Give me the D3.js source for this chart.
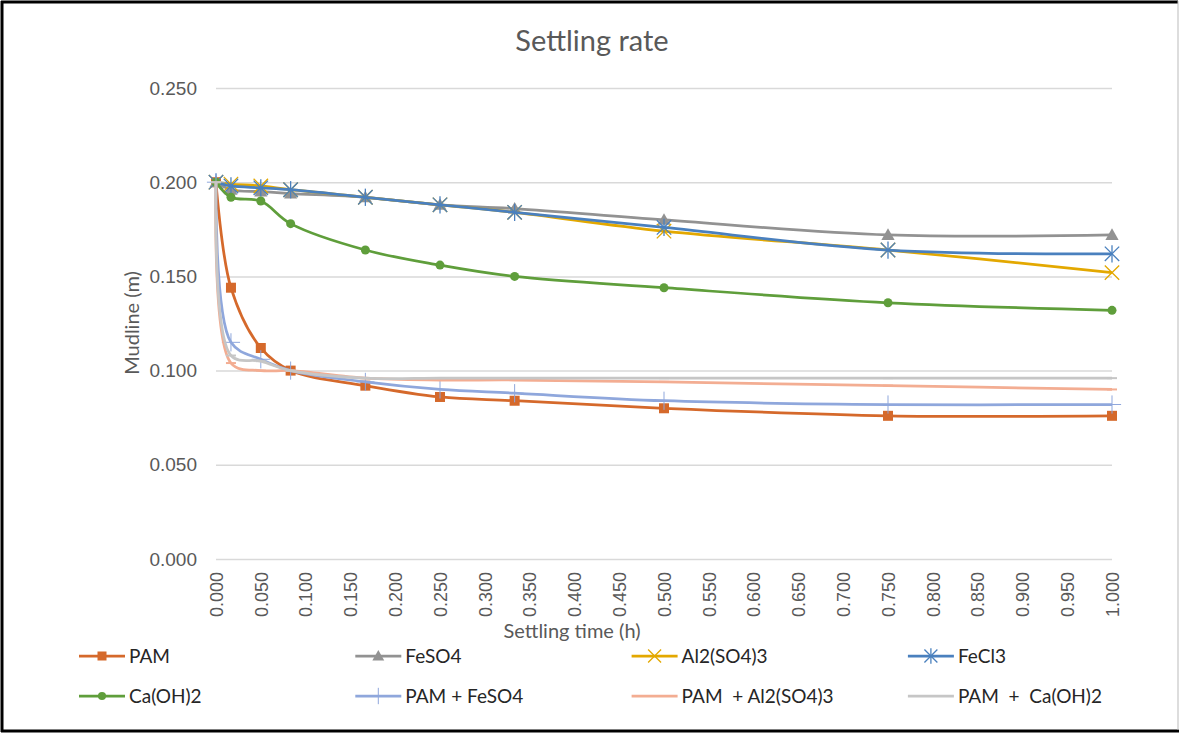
<!DOCTYPE html>
<html>
<head>
<meta charset="UTF-8">
<title>Settling rate</title>
<script src="https://d3js.org/d3.v7.min.js"></script>
<style>
  body { margin: 0; background: #fff; }
  svg { display: block; font-family: Lato, "Open Sans", sans-serif; }
  text { white-space: pre; }
</style>
</head>
<body>
<div id="chart"></div>
<script>
// settling time (h)
var times = [0, 0.0167, 0.05, 0.0833, 0.1667, 0.25, 0.3333, 0.5, 0.75, 1.0];

// mudline (m) per treatment
var pam      = [0.200, 0.144, 0.112, 0.100, 0.092, 0.086, 0.084, 0.080, 0.076, 0.076];
var feso4    = [0.200, 0.196, 0.195, 0.194, 0.192, 0.188, 0.186, 0.180, 0.172, 0.172];
var al2so43  = [0.200, 0.199, 0.198, 0.196, 0.192, 0.188, 0.184, 0.174, 0.164, 0.152];
var fecl3    = [0.200, 0.198, 0.197, 0.196, 0.192, 0.188, 0.184, 0.176, 0.164, 0.162];
var caoh2    = [0.200, 0.192, 0.190, 0.178, 0.164, 0.156, 0.150, 0.144, 0.136, 0.132];
var pamFeso4 = [0.200, 0.115, 0.106, 0.100, 0.094, 0.090, 0.088, 0.084, 0.082, 0.082];
var pamAl    = [0.200, 0.104, 0.100, 0.100, 0.096, 0.095, 0.095, 0.094, 0.092, 0.090];
var pamCa    = [0.200, 0.108, 0.105, 0.100, 0.096, 0.096, 0.096, 0.096, 0.096, 0.096];

var seriesNames = ["PAM", "FeSO4", "Al2(SO4)3", "FeCl3", "Ca(OH)2", "PAM + FeSO4", "PAM  + Al2(SO4)3", "PAM  +  Ca(OH)2"];
var seriesValues = [pam, feso4, al2so43, fecl3, caoh2, pamFeso4, pamAl, pamCa];

var xTicks = [0, 0.05, 0.1, 0.15, 0.2, 0.25, 0.3, 0.35, 0.4, 0.45, 0.5, 0.55, 0.6, 0.65, 0.7, 0.75, 0.8, 0.85, 0.9, 0.95, 1.0];
var yTicks = [0, 0.05, 0.1, 0.15, 0.2, 0.25];

// look of each series, in the same order
var colors  = ["#D5692B", "#929292", "#E3A800", "#4A80BE", "#5F9E3B", "#8FA7DC", "#F3AD92", "#C6C6C6"];
var markers = ["square", "triangle", "x", "star", "circle", "plus", "dash", "dash"];

var W = 1179, H = 733;
var svg = d3.select("#chart").append("svg").attr("width", W).attr("height", H);

// chart frame
svg.append("rect").attr("x", 0).attr("y", 0).attr("width", W).attr("height", H).attr("fill", "#fff");
svg.append("line").attr("x1", 2).attr("x2", 2).attr("y1", 1).attr("y2", 732).attr("stroke", "#000").attr("stroke-width", 3);
svg.append("line").attr("x1", 1).attr("x2", 1178).attr("y1", 2).attr("y2", 2).attr("stroke", "#000").attr("stroke-width", 3);
svg.append("line").attr("x1", 1).attr("x2", 1179).attr("y1", 731).attr("y2", 731).attr("stroke", "#000").attr("stroke-width", 3);
svg.append("line").attr("x1", 1178).attr("x2", 1178).attr("y1", 1).attr("y2", 730).attr("stroke", "#bbb").attr("stroke-width", 1);

var x = d3.scaleLinear().domain([0, 1]).range([216, 1112]);
var y = d3.scaleLinear().domain([0, 0.25]).range([559, 88]);

// y axis + gridlines
var yAxis = svg.append("g")
  .attr("transform", "translate(216,0)")
  .call(d3.axisLeft(y).tickValues(yTicks).tickFormat(d3.format(".3f"))
    .tickSizeInner(-(x(1) - x(0))).tickSizeOuter(0).tickPadding(19));
yAxis.select(".domain").remove();
yAxis.selectAll(".tick line").attr("stroke", "#D9D9D9").attr("stroke-width", 1.5);
yAxis.selectAll(".tick text").attr("fill", "#595959").style("font-size", "19px");

// x axis, rotated labels
var xAxis = svg.append("g")
  .attr("transform", "translate(0,559)")
  .call(d3.axisBottom(x).tickValues(xTicks).tickFormat(d3.format(".3f")).tickSize(0));
xAxis.select(".domain").remove();
xAxis.selectAll(".tick text")
  .attr("transform", "rotate(-90)")
  .attr("x", -13).attr("y", 0).attr("dy", "0.35em")
  .attr("text-anchor", "end")
  .attr("fill", "#595959").style("font-size", "18px");

// titles
svg.append("text").attr("x", 592).attr("y", 51).attr("text-anchor", "middle")
  .attr("fill", "#595959").style("font-size", "29px").text("Settling rate");
svg.append("text").attr("x", 572).attr("y", 638).attr("text-anchor", "middle")
  .attr("fill", "#595959").style("font-size", "20px").text("Settling time (h)");
svg.append("text").attr("transform", "translate(139,323) rotate(-90)").attr("text-anchor", "middle")
  .attr("fill", "#595959").style("font-size", "20px").text("Mudline (m)");

function drawMarker(g, type, color, s) {
  if (type === "square") {
    g.append("rect").attr("x", -s / 2).attr("y", -s / 2).attr("width", s).attr("height", s).attr("fill", color);
  } else if (type === "triangle") {
    g.append("path").attr("d", "M0," + (-s * 0.6) + "L" + (s * 0.6) + "," + (s * 0.45) + "L" + (-s * 0.6) + "," + (s * 0.45) + "Z").attr("fill", color);
  } else if (type === "circle") {
    g.append("circle").attr("r", s / 2).attr("fill", color);
  } else if (type === "x" || type === "star") {
    var h = s * 0.6;
    g.append("path").attr("d", "M" + (-h) + "," + (-h) + "L" + h + "," + h + "M" + (-h) + "," + h + "L" + h + "," + (-h))
      .attr("stroke", color).attr("stroke-width", 1.3).attr("fill", "none");
    if (type === "star") {
      g.append("path").attr("d", "M0," + (-h * 1.2) + "L0," + (h * 1.2)).attr("stroke", color).attr("stroke-width", 1.3);
    }
  } else if (type === "plus") {
    var p = s * 0.65;
    g.append("path").attr("d", "M0," + (-p) + "L0," + p + "M" + (-p) + ",0L" + p + ",0")
      .attr("stroke", color).attr("stroke-width", 1).attr("fill", "none");
  } else if (type === "dash") {
    g.append("path").attr("d", "M" + (-s / 2) + ",0L" + (s / 2) + ",0").attr("stroke", color).attr("stroke-width", 2);
  }
}

var line = d3.line()
  .x(function(d) { return x(d[0]); })
  .y(function(d) { return y(d[1]); })
  .curve(d3.curveCatmullRom.alpha(0.5));

var markerSize = { square: 10, triangle: 11, x: 12, star: 12, circle: 9, plus: 14, dash: 10 };

seriesValues.forEach(function(vals, i) {
  var pts = times.map(function(t, j) { return [t, vals[j]]; });
  var g = svg.append("g").attr("class", "series");
  g.append("path").datum(pts)
    .attr("d", line)
    .attr("fill", "none")
    .attr("stroke", colors[i])
    .attr("stroke-width", 2.75)
    .attr("stroke-linejoin", "round");
  pts.forEach(function(p) {
    var m = g.append("g").attr("transform", "translate(" + x(p[0]) + "," + y(p[1]) + ")");
    drawMarker(m, markers[i], colors[i], markerSize[markers[i]]);
  });
});

// legend, 2 rows x 4 columns
var legend = svg.append("g");
seriesNames.forEach(function(name, i) {
  var col = i % 4, row = Math.floor(i / 4);
  var lx = 79 + col * 276.3, ly = 656 + row * 40;
  var g = legend.append("g").attr("transform", "translate(" + lx + "," + ly + ")");
  g.append("line").attr("x1", 0).attr("x2", 46).attr("y1", 0).attr("y2", 0)
    .attr("stroke", colors[i]).attr("stroke-width", 2.75);
  var m = g.append("g").attr("transform", "translate(23,0)");
  drawMarker(m, markers[i], colors[i], markerSize[markers[i]] * 0.9);
  g.append("text").attr("x", 50).attr("y", 0).attr("dy", "0.35em")
    .attr("fill", "#262626").style("font-size", "19px").text(name);
});
</script>
</body>
</html>
